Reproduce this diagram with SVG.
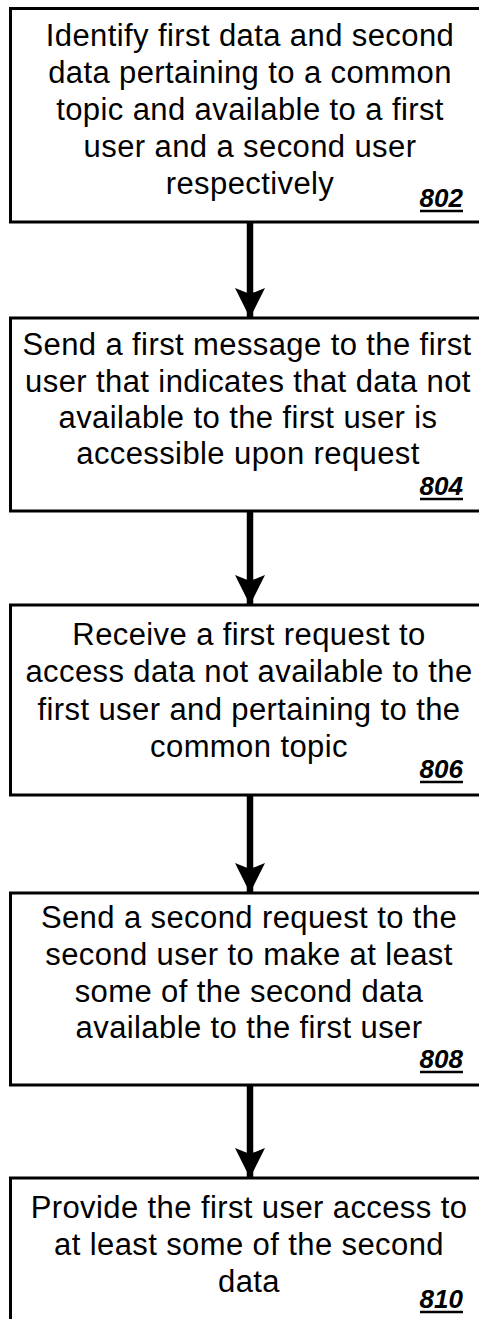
<svg xmlns="http://www.w3.org/2000/svg" width="479" height="1319" viewBox="0 0 479 1319">
<style>
.box{fill:#fff;stroke:#000;stroke-width:3}
.t{font-family:"Liberation Sans",Arial,sans-serif;font-size:31px;letter-spacing:0.4px;text-anchor:middle;fill:#000}
.lbl{font-family:"Liberation Sans",Arial,sans-serif;font-size:26px;font-weight:bold;font-style:italic;text-anchor:end;fill:#000}
.ul{stroke:#000;stroke-width:2.5}
.conn{stroke:#000;stroke-width:6.5;fill:none;marker-end:url(#ah)}
</style>
<defs>
<marker id="ah" markerUnits="userSpaceOnUse" viewBox="0 0 30 30" refX="30" refY="15" markerWidth="30" markerHeight="30" orient="auto">
<path d="M0,0 L30,15 L0,30 L6,15 Z" fill="#000"/>
</marker>
</defs>
<rect width="479" height="1319" fill="#fff"/>
<g id="connectors">
<line class="conn" x1="250" y1="222" x2="250" y2="318"/>
<line class="conn" x1="250" y1="511" x2="250" y2="605"/>
<line class="conn" x1="250" y1="795" x2="250" y2="893"/>
<line class="conn" x1="250" y1="1085" x2="250" y2="1178"/>
</g>
<g id="n802">
<rect class="box" x="10.5" y="8.5" width="490" height="213.5"/>
<text class="t" x="250" y="46">Identify first data and second</text>
<text class="t" x="250" y="83">data pertaining to a common</text>
<text class="t" x="250" y="120">topic and available to a first</text>
<text class="t" x="250" y="157">user and a second user</text>
<text class="t" x="250" y="194">respectively</text>
<text class="lbl" x="463" y="207">802</text>
<line class="ul" x1="420" y1="211" x2="463" y2="211"/>
</g>
<g id="n804">
<rect class="box" x="10.5" y="318" width="490" height="193"/>
<text class="t" x="247" y="355">Send a first message to the first</text>
<text class="t" x="248" y="392">user that indicates that data not</text>
<text class="t" x="248" y="428">available to the first user is</text>
<text class="t" x="248" y="464">accessible upon request</text>
<text class="lbl" x="463" y="495">804</text>
<line class="ul" x1="420" y1="499" x2="463" y2="499"/>
</g>
<g id="n806">
<rect class="box" x="10.5" y="605" width="490" height="190"/>
<text class="t" x="249" y="645">Receive a first request to</text>
<text class="t" x="249" y="682">access data not available to the</text>
<text class="t" x="249" y="720">first user and pertaining to the</text>
<text class="t" x="249" y="757">common topic</text>
<text class="lbl" x="463" y="778">806</text>
<line class="ul" x1="420" y1="782" x2="463" y2="782"/>
</g>
<g id="n808">
<rect class="box" x="10.5" y="893" width="490" height="192"/>
<text class="t" x="249" y="928">Send a second request to the</text>
<text class="t" x="249" y="965">second user to make at least</text>
<text class="t" x="249" y="1002">some of the second data</text>
<text class="t" x="249" y="1038">available to the first user</text>
<text class="lbl" x="463" y="1068">808</text>
<line class="ul" x1="420" y1="1072" x2="463" y2="1072"/>
</g>
<g id="n810">
<rect class="box" x="10.5" y="1178" width="490" height="160"/>
<text class="t" x="249" y="1218">Provide the first user access to</text>
<text class="t" x="249" y="1255">at least some of the second</text>
<text class="t" x="249" y="1292">data</text>
<text class="lbl" x="463" y="1308">810</text>
<line class="ul" x1="420" y1="1312" x2="463" y2="1312"/>
</g>
</svg>
